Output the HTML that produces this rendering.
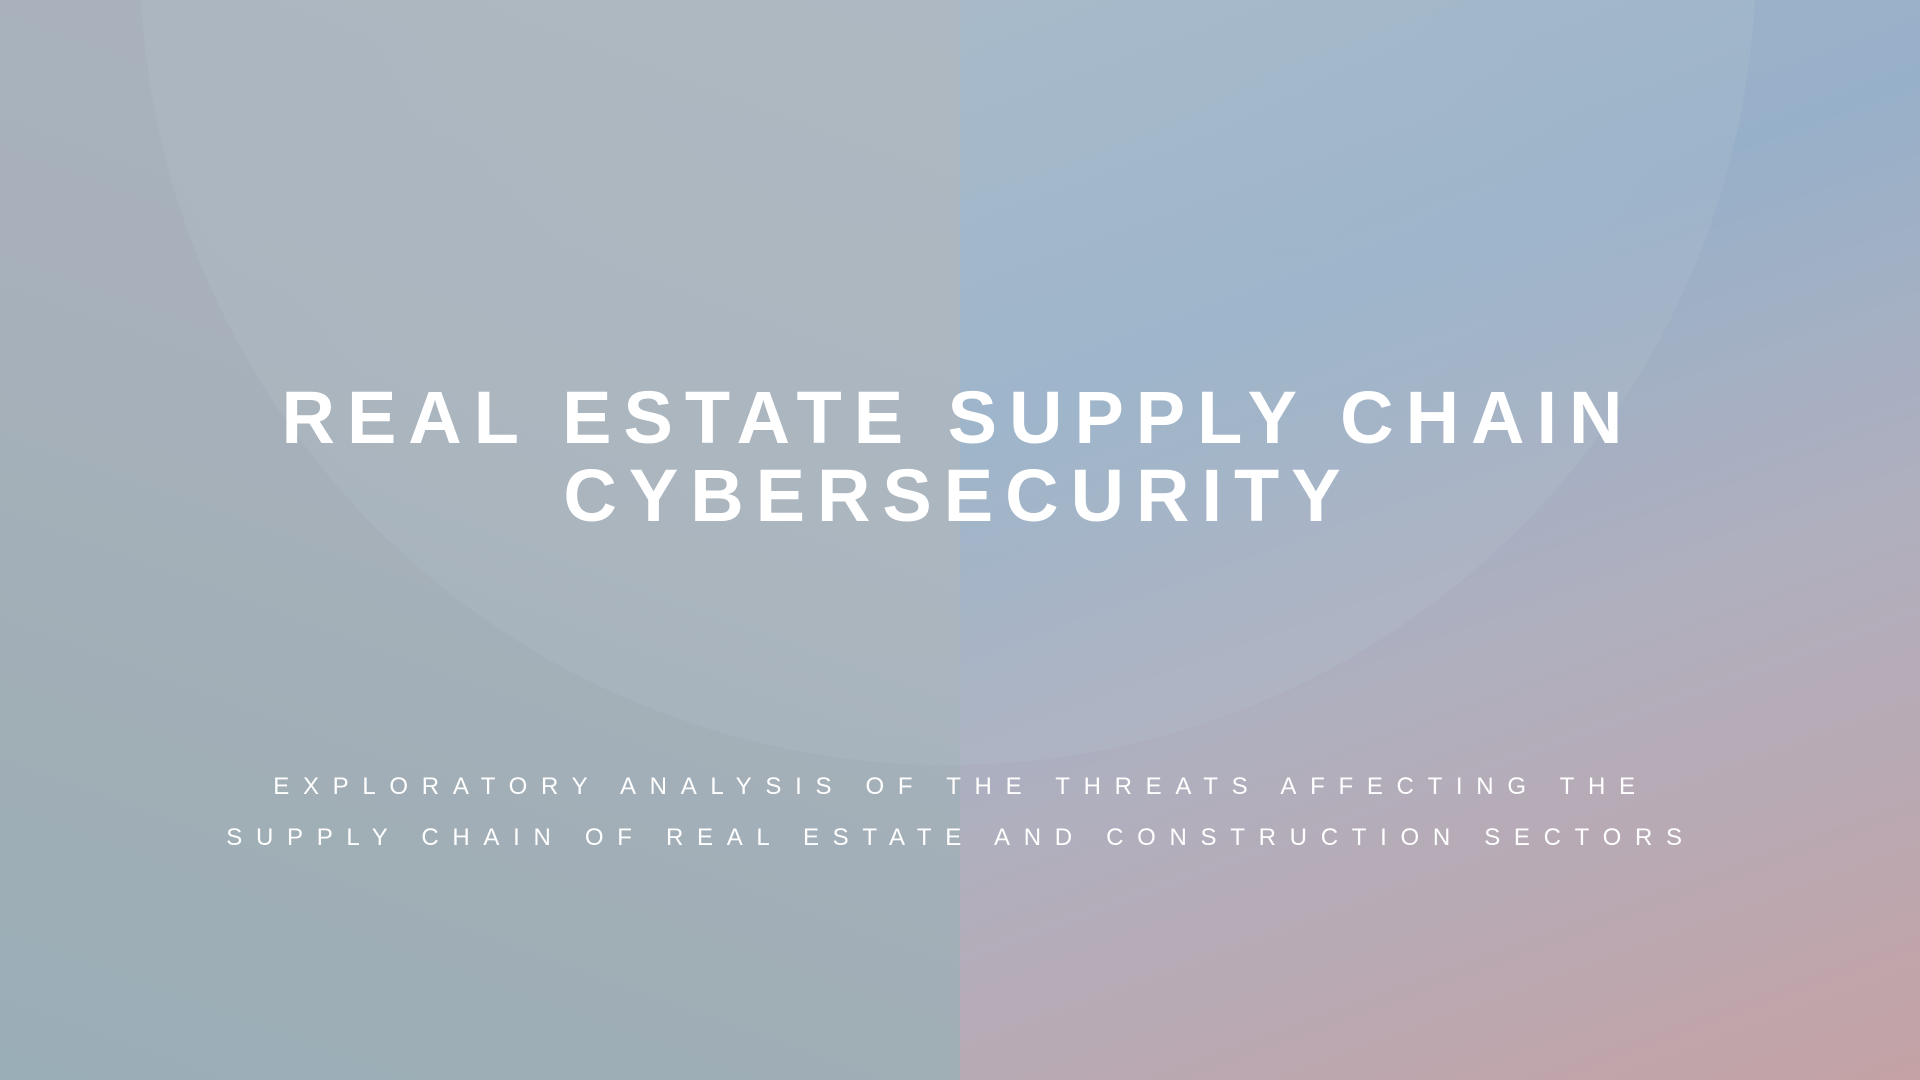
<!DOCTYPE html>
<html>
<head>
<meta charset="utf-8">
<style>
html,body{margin:0;padding:0;}
body{width:1920px;height:1080px;overflow:hidden;position:relative;font-family:"Liberation Sans",sans-serif;}
#bg-left{position:absolute;left:0;top:0;width:960px;height:1080px;
 background:linear-gradient(200deg,#aab3bd 0%,#a8b1bb 40%,#a0aeb6 75%,#9aaeb7 100%);}
#bg-right{position:absolute;left:960px;top:0;width:960px;height:1080px;
 background:linear-gradient(160deg,#a2b5c8 0%,#97b0c9 30%,#b0afbe 60%,#c4a2a5 100%);}
#circle{position:absolute;left:140px;top:-851px;width:1616px;height:1616px;border-radius:50%;
 background:radial-gradient(circle at 50% 40%,rgba(190,205,210,0.22),rgba(185,200,210,0.15));}
.t{position:absolute;left:0;width:1920px;text-align:center;color:#fff;white-space:nowrap;}
.title{font-weight:bold;font-size:74px;letter-spacing:12px;line-height:80px;left:-2px;}
.sub{font-size:24px;letter-spacing:13.7px;line-height:30px;left:1px;}
</style>
</head>
<body>
<div id="bg-left"></div>
<div id="bg-right"></div>
<div id="circle"></div>
<div class="t title" style="top:378px;">REAL ESTATE SUPPLY CHAIN</div>
<div class="t title" style="top:456px;">CYBERSECURITY</div>
<div class="t sub" style="top:772px;">EXPLORATORY ANALYSIS OF THE THREATS AFFECTING THE</div>
<div class="t sub" style="top:823px;">SUPPLY CHAIN OF REAL ESTATE AND CONSTRUCTION SECTORS</div>
</body>
</html>
